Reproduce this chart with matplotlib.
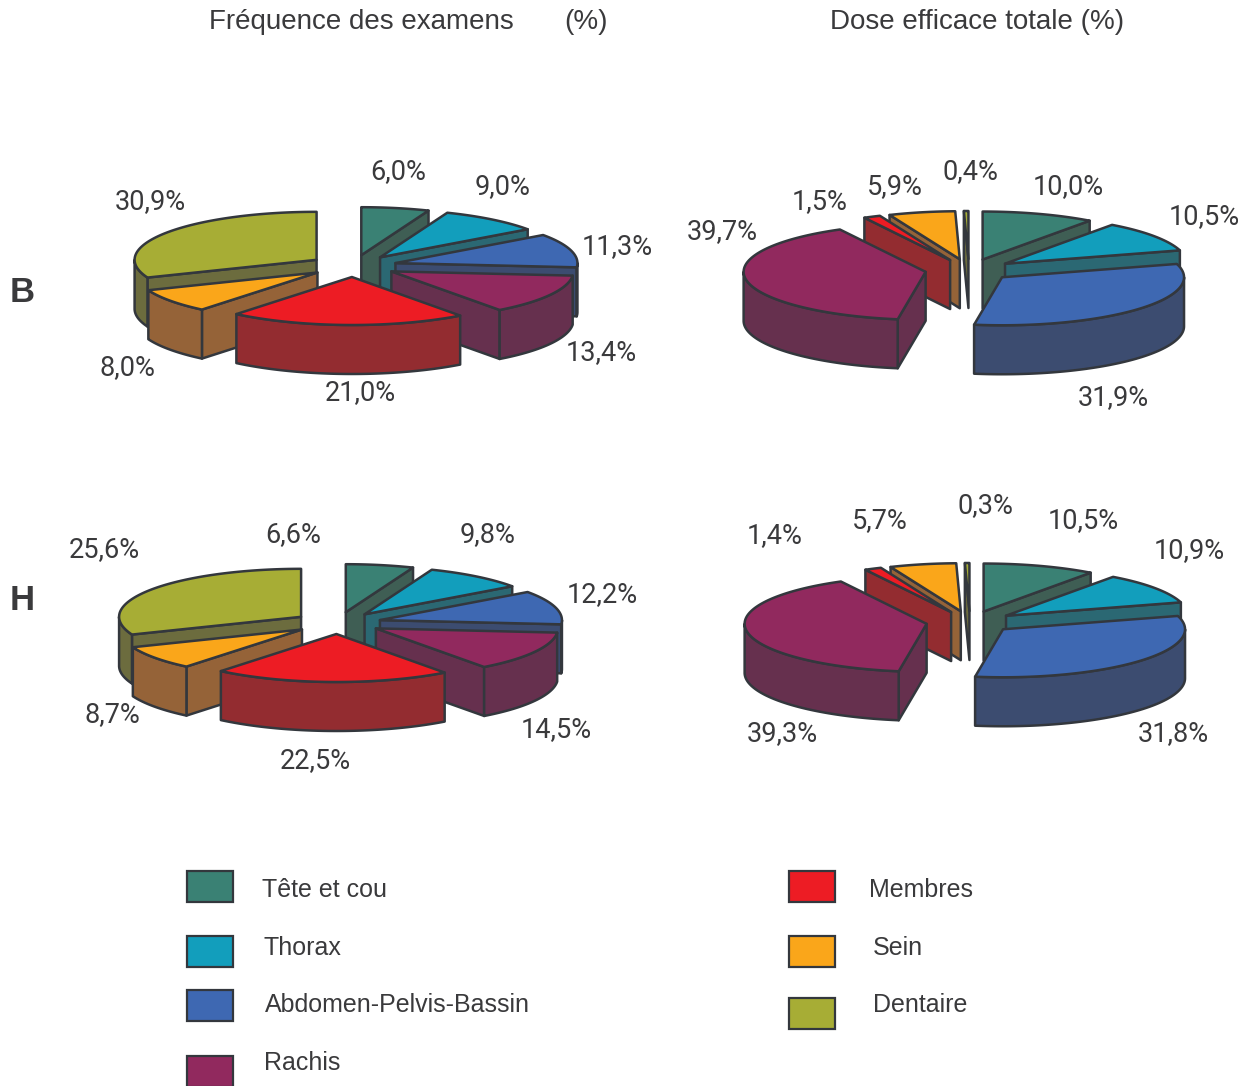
import numpy as np
import matplotlib
matplotlib.use("Agg")
import matplotlib.pyplot as plt
from matplotlib.patches import Polygon, Rectangle

# ---------- data ----------
categories = ["Tête et cou", "Thorax", "Abdomen-Pelvis-Bassin", "Rachis",
              "Membres", "Sein", "Dentaire"]

freq_b = [6.0, 9.0, 11.3, 13.4, 21.0, 8.0, 30.9]
freq_h = [6.6, 9.8, 12.2, 14.5, 22.5, 8.7, 25.6]
dose_b = [10.0, 10.5, 31.9, 39.7, 1.5, 5.9, 0.4]
dose_h = [10.5, 10.9, 31.8, 39.3, 1.4, 5.7, 0.3]

# in the source the H pies are drawn with the same slices as the B ones
freq_h_drawn = [6.0, 9.0, 11.3, 13.4, 21.0, 8.0, 30.9]
dose_h_drawn = [10.0, 10.5, 31.9, 39.7, 1.5, 5.9, 0.4]

top_colors = ["#3A8174", "#129EBC", "#3E68B2", "#91295E", "#ED1C24", "#FAA61A", "#A7AD35"]
side_colors = ["#3F5E54", "#2B6873", "#3C4C70", "#66304E", "#932C30", "#956338", "#6C6C3E"]
EDGE = "#33373D"
TEXT = "#3A3A3C"

RX, RY, DEPTH = 182, 48, 49
EX, EY = 44, 11
LABEL_SIZE = 19.5


def rim(x, y, a):
    return x + RX * np.sin(a), y - RY * np.cos(a)


def draw_pie(ax, shares, cx, cy):
    shares = np.array(shares, dtype=float)
    edges = np.concatenate([[0], np.cumsum(shares)]) / shares.sum() * 2 * np.pi
    wedges = []
    for i in range(len(shares)):
        a1, a2 = edges[i], edges[i + 1]
        mid = (a1 + a2) / 2
        wedges.append((cy - EY * np.cos(mid), cx + EX * np.sin(mid), a1, a2, i))

    # back to front
    for y0, x0, a1, a2, i in sorted(wedges):
        style = dict(facecolor=side_colors[i], edgecolor=EDGE, linewidth=1.8, joinstyle="round")

        # radial walls
        for a, visible in ((a1, np.sin(a1) < 0), (a2, np.sin(a2) > 0)):
            if visible:
                rx_, ry_ = rim(x0, y0, a)
                ax.add_patch(Polygon([(x0, y0), (rx_, ry_), (rx_, ry_ + DEPTH), (x0, y0 + DEPTH)], **style))

        # outer wall, front half of the rim only
        lo, hi = max(a1, np.pi / 2), min(a2, 3 * np.pi / 2)
        if hi > lo:
            t = np.linspace(lo, hi, 80)
            xs, ys = rim(x0, y0, t)
            pts = list(zip(xs, ys)) + list(zip(xs[::-1], ys[::-1] + DEPTH))
            ax.add_patch(Polygon(pts, **style))

        # top face
        t = np.linspace(a1, a2, 120)
        xs, ys = rim(x0, y0, t)
        ax.add_patch(Polygon([(x0, y0)] + list(zip(xs, ys)), facecolor=top_colors[i],
                             edgecolor=EDGE, linewidth=1.8, joinstyle="round"))


def draw_labels(ax, values, positions):
    for v, (x, y) in zip(values, positions):
        ax.text(x, y + 1, f"{v:.1f}%".replace(".", ","), ha="center", va="center",
                fontsize=LABEL_SIZE, family="Roboto", color=TEXT)


fig = plt.figure(figsize=(12.51, 10.86), dpi=100)
ax = fig.add_axes([0, 0, 1, 1])
ax.set_xlim(0, 1251)
ax.set_ylim(1086, 0)
ax.axis("off")

# ---------- pies ----------
draw_pie(ax, freq_b, 353, 266)
draw_pie(ax, dose_b, 969, 270)
draw_pie(ax, freq_h_drawn, 337.5, 623)
draw_pie(ax, dose_h_drawn, 970, 622)

draw_labels(ax, freq_b, [(398, 171), (503, 186), (617, 246), (601, 352), (360, 392), (127, 367), (150, 201)])
draw_labels(ax, dose_b, [(1068, 186), (1204, 216), (1113, 397), (722, 231), (820, 201), (895, 186), (970, 171)])
draw_labels(ax, freq_h, [(293, 534), (488, 534), (602, 594), (556, 729), (315, 760), (112, 714), (104, 549)])
draw_labels(ax, dose_h, [(1083, 520), (1189, 550), (1173, 733), (782, 733), (775, 535), (880, 520), (985, 505)])

# ---------- titles ----------
title_style = dict(family="Liberation Sans", fontsize=20, color=TEXT, va="center")
ax.text(209, 22, "Fréquence des examens", ha="left", **title_style)
ax.text(564, 22, "(%)", ha="left", **title_style)
ax.text(830, 22, "Dose efficace totale (%)", ha="left", **title_style)

for name, y in (("B", 292), ("H", 600)):
    ax.text(22, y, name, family="Liberation Sans", fontsize=25, fontweight="bold",
            color=TEXT, ha="center", va="center")

# ---------- legend ----------
swatch_pos = [(187, 871), (187, 936), (187, 990), (187, 1056), (789, 871), (789, 936), (789, 998)]
text_pos = [(262, 890), (264, 948), (265, 1005), (264, 1063), (869, 890), (873, 948), (873, 1005)]
for i, name in enumerate(categories):
    x, y = swatch_pos[i]
    ax.add_patch(Rectangle((x, y), 46, 31, facecolor=top_colors[i], edgecolor=EDGE, linewidth=1.6))
    tx, ty = text_pos[i]
    ax.text(tx, ty, name, family="Liberation Sans", fontsize=18, color=TEXT, ha="left", va="center")

fig.savefig("out.png", dpi=100)
